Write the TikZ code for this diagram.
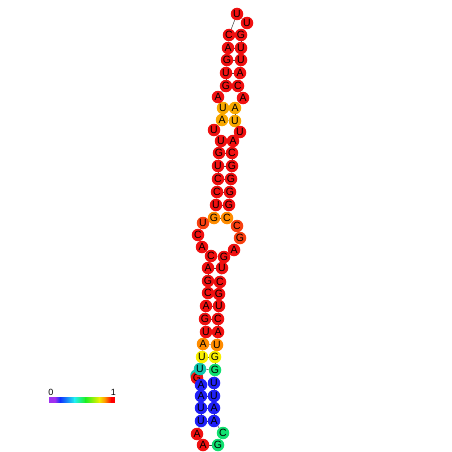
\documentclass[tikz,border=0pt]{standalone}
\usepackage{fontspec}
\setmainfont{Liberation Sans}
\usetikzlibrary{backgrounds}
\definecolor{rd}{HTML}{F01010}
\definecolor{orr}{HTML}{F84010}
\definecolor{og}{HTML}{FF8C00}
\definecolor{oy}{HTML}{F8A800}
\definecolor{yl}{HTML}{F8F000}
\definecolor{gr}{HTML}{10E070}
\definecolor{tl}{HTML}{10C8B0}
\definecolor{bl}{HTML}{2020F8}
\definecolor{cbv}{HTML}{A030F0}
\definecolor{cbb}{HTML}{1030FF}
\definecolor{cbc}{HTML}{20F0F0}
\definecolor{cbg}{HTML}{20F020}
\definecolor{cby}{HTML}{F0F000}
\definecolor{cbo}{HTML}{FF9000}
\definecolor{cbr}{HTML}{FF0000}
\begin{document}
\begin{tikzpicture}[x=1pt,y=-1pt,
  nt/.style={circle, inner sep=0pt, minimum size=12.5pt, fill=#1, font=\fontsize{10.5}{10.5}\selectfont},
  bb/.style={draw=black!75, line width=0.5pt},
  lbl/.style={font=\fontsize{9}{9}\selectfont, inner sep=0pt}]
\useasboundingbox (0,0) rectangle (452,452);
% overlapping end circles
\node[nt=tl] (x1) at (196.5,375.5) {};
\node[nt=rd] (x2) at (197,378) {G};
\foreach \i/\x/\y/\l/\c in {
1/200/369/U/tl, 2/202/357/U/yl, 3/203/344/A/og, 4/206/332/U/rd, 5/205/319/G/rd,
6/206/306/A/rd, 7/208/293/C/rd, 8/208/281/G/rd, 9/208/268/A/rd, 10/211/256/C/rd,
11/202/247/A/rd, 12/198/235/C/rd, 13/203/223/U/orr, 14/214/218/G/og, 15/216/205/U/rd,
16/217/192/C/rd, 17/218/179/C/rd, 18/218/166/U/rd, 19/219/153/G/rd, 20/221/141/U/rd,
21/214/130/U/rd, 22/222/120/A/oy, 23/223/108/U/oy, 24/218/97/A/rd, 25/226/86/G/rd,
26/226/73/U/rd, 27/227/60/G/rd, 28/228/48/A/rd, 29/229/35/C/rd, 30/237/14/U/rd,
31/247/23/U/rd, 32/241/35/G/rd, 33/241/48/U/rd, 34/241/60/U/rd, 35/240/73/A/rd,
36/238/86/C/rd, 37/243/98/A/rd, 38/235/108/A/oy, 39/235/121/U/oy, 40/240/132/U/rd,
41/233/141/A/rd, 42/232/153/C/rd, 43/232/166/G/rd, 44/231/179/G/rd, 45/230/192/G/rd,
46/229/205/G/rd, 47/227/218/C/og, 48/237/226/C/orr, 49/240/238/G/orr, 50/234/250/A/rd,
51/224/257/G/rd, 52/222/268/U/rd, 53/220/282/C/rd, 54/219/294/G/rd, 55/219/306/U/rd,
56/218/319/C/rd, 57/218/332/A/rd, 58/217/345/U/og, 59/215/357/G/yl, 60/215/370/G/gr,
61/214/383/U/bl, 62/214/396/U/bl, 63/214/408/A/bl, 64/214/421/A/bl, 65/223/433/C/gr,
66/218/445/G/gr, 67/203/445/A/rd, 68/197/434/A/rd, 69/201/421/U/bl, 70/201/408/U/bl,
71/201/396/A/bl, 72/201/385/A/bl}
  \node[nt=\c] (n\i) at (\x,\y) {\l};
\begin{scope}[on background layer]
  \foreach \i [evaluate=\i as \j using int(\i+1)] in {1,...,71}
    \draw[bb] (n\i) -- (n\j);
  \draw[bb] (x2) -- (n1);
  \foreach \a/\b in {1/60,2/59,3/58,4/57,5/56,6/55,7/54,8/53,9/52,10/51,
    14/47,15/46,16/45,17/44,18/43,19/42,20/41,22/39,23/38,25/36,26/35,27/34,
    28/33,29/32,61/72,62/71,63/70,64/69}
    \draw[bb] (n\a) -- (n\b);
\end{scope}
% colour bar
\fill[cbv] (49,397) rectangle (55,402.5);
\shade[left color=cbv, right color=cbb] (54.8,397) rectangle (60.3,402.5);
\shade[left color=cbb, right color=cbc] (60,397) rectangle (74.8,402.5);
\shade[left color=cbc, right color=cbg] (74.5,397) rectangle (85.8,402.5);
\shade[left color=cbg, right color=cby] (85.5,397) rectangle (99.3,402.5);
\shade[left color=cby, right color=cbo] (99,397) rectangle (105.3,402.5);
\shade[left color=cbo, right color=cbr] (105,397) rectangle (111.3,402.5);
\fill[cbr] (111,397) rectangle (115,402.5);
\node[lbl] (c0) at (51,392.5) {0};
\node[lbl] (c1) at (113.5,392.5) {1};
\end{tikzpicture}
\end{document}
